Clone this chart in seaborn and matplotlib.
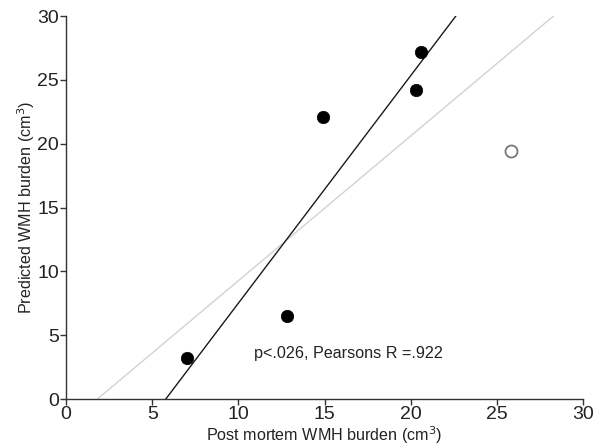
import numpy as np
import pandas as pd
import seaborn as sns
import matplotlib.pyplot as plt

# data
post_mortem = [7.0, 12.8, 14.9, 20.3, 20.6]
predicted = [3.2, 6.5, 22.1, 24.2, 27.2]
outlier_x = [25.8]
outlier_y = [19.4]

df = pd.DataFrame({"x": post_mortem, "y": predicted})
df_all = pd.DataFrame({"x": post_mortem + outlier_x, "y": predicted + outlier_y})

sns.set_style("ticks")
plt.rcParams['font.family'] = ['Liberation Sans', 'DejaVu Sans']

fig = plt.figure(figsize=(6.06, 4.48), dpi=100)
ax = fig.add_axes([0.109, 0.109, 0.853, 0.855])
ax.set_xlim(0, 30)
ax.set_ylim(0, 30)

# grey line: fit with all points, black line: fit without the outlier
sns.regplot(data=df_all, x="x", y="y", ci=None, scatter=False, truncate=False,
            line_kws={"color": "#d2d2d2", "lw": 1.0}, ax=ax)
sns.regplot(data=df, x="x", y="y", ci=None, scatter=False, truncate=False,
            line_kws={"color": "#1a1a1a", "lw": 1.0}, ax=ax)
sns.scatterplot(data=df, x="x", y="y", color="black", s=80, edgecolor="black",
                linewidth=0.5, ax=ax, zorder=3)
sns.scatterplot(x=outlier_x, y=outlier_y, color="white", s=75, edgecolor="#777777",
                linewidth=1.3, ax=ax, zorder=3)

ax.set_xlim(0, 30)
ax.set_ylim(0, 30)
ax.set_xticks(range(0, 31, 5))
ax.set_yticks(range(0, 31, 5))
ax.tick_params(labelsize=14, length=4, width=1, color="#333333", pad=1, labelcolor="#222222")
for side in ["left", "bottom"]:
    ax.spines[side].set_color("#333333")
    ax.spines[side].set_linewidth(1.0)
sns.despine(ax=ax)

ax.set_xlabel("Post mortem WMH burden (cm$^3$)", fontsize=11.6, labelpad=1, color="#222222")
ax.set_ylabel("Predicted WMH burden (cm$^3$)", fontsize=11.6, labelpad=0, color="#222222")
ax.text(10.9, 3.6, "p<.026, Pearsons R =.922", fontsize=11.6, va="center", color="#222222")

fig.savefig("out.png", dpi=100)
